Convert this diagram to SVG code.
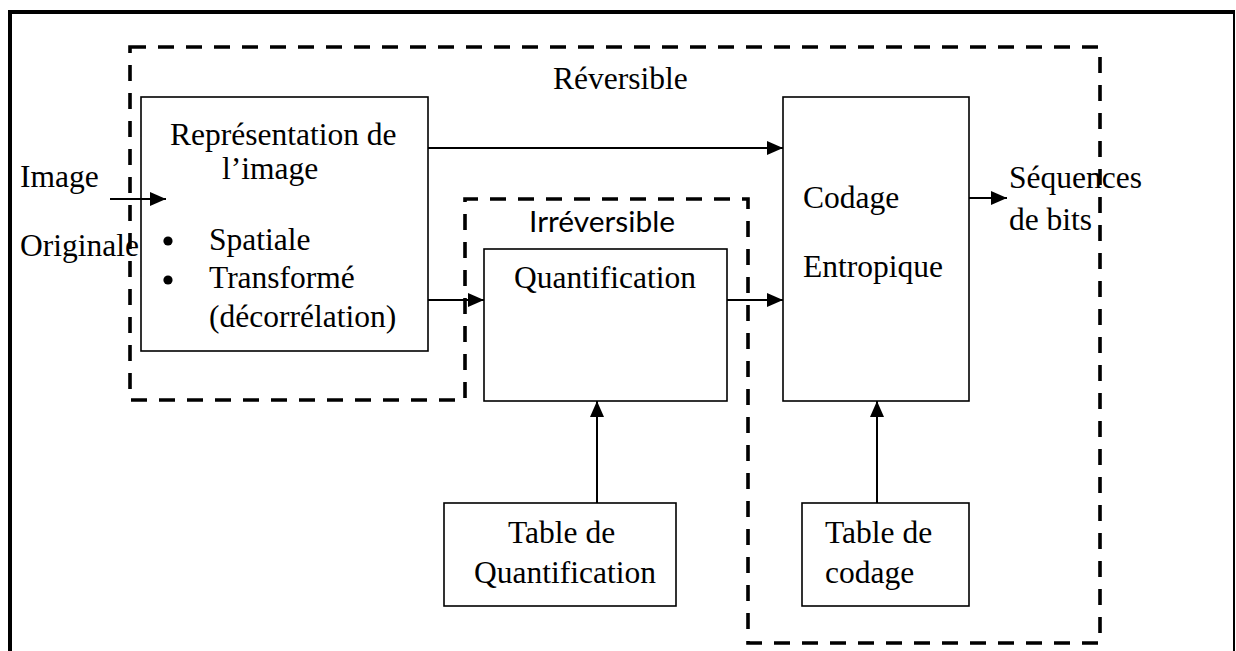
<svg xmlns="http://www.w3.org/2000/svg" width="1236" height="651" viewBox="0 0 1236 651">
  <style>
    .box { fill: #fff; stroke: #000; stroke-width: 1.6; }
    .zone { fill: none; stroke: #000; stroke-width: 3.6; stroke-dasharray: 16 12; }
    .frame { fill: none; stroke: #000; }
    .lbl { font-family: "Liberation Serif", "Times New Roman", serif; font-size: 31.5px; fill: #000; }
    .sans { font-family: Lato, "Liberation Sans", sans-serif; font-size: 29px; fill: #000; }
    .link { fill: none; stroke: #000; stroke-width: 2; }
  </style>
  <defs>
    <marker id="head" markerUnits="userSpaceOnUse" markerWidth="17" markerHeight="15" refX="16" refY="7" orient="auto">
      <path d="M0,0 L16,7 L0,14 Z" fill="#000"/>
    </marker>
  </defs>

  <rect width="1236" height="651" fill="#fff"/>

  <!-- page frame -->
  <g id="frame">
    <line class="frame" x1="8" y1="12" x2="1235" y2="12" stroke-width="4"/>
    <line class="frame" x1="10" y1="10" x2="10" y2="651" stroke-width="4"/>
    <line class="frame" x1="1234" y1="12" x2="1234" y2="651" stroke-width="2"/>
  </g>

  <!-- reversible / irreversible zones -->
  <g id="zones">
    <path class="zone" d="M130,47 H1100 V643 H748 V199 H465 V400 H130 Z"/>
    <text class="lbl" x="553" y="89">Réversible</text>
    <text class="sans" x="529" y="232" textLength="146" lengthAdjust="spacingAndGlyphs">Irréversible</text>
  </g>

  <!-- input / output labels -->
  <g id="input">
    <text class="lbl" x="20" y="187">Image</text>
    <text class="lbl" x="20" y="256">Originale</text>
  </g>
  <g id="output">
    <text class="lbl" x="1009" y="188">Séquences</text>
    <text class="lbl" x="1009" y="230">de bits</text>
  </g>

  <g id="representation">
    <rect class="box" x="141" y="97" width="287" height="254"/>
    <text class="lbl" x="170" y="145">Représentation de</text>
    <text class="lbl" x="222" y="179">l’image</text>
    <circle cx="168" cy="241" r="4.6" fill="#000"/>
    <text class="lbl" x="209" y="250">Spatiale</text>
    <circle cx="168" cy="280" r="4.6" fill="#000"/>
    <text class="lbl" x="209" y="288">Transformé</text>
    <text class="lbl" x="209" y="327">(décorrélation)</text>
  </g>

  <g id="quantification">
    <rect class="box" x="484" y="249" width="243" height="152"/>
    <text class="lbl" x="514" y="288">Quantification</text>
  </g>

  <g id="codage">
    <rect class="box" x="783" y="97" width="186" height="304"/>
    <text class="lbl" x="803" y="208">Codage</text>
    <text class="lbl" x="803" y="277">Entropique</text>
  </g>

  <g id="table-quantification">
    <rect class="box" x="444" y="503" width="232" height="103"/>
    <text class="lbl" x="508" y="543">Table de</text>
    <text class="lbl" x="474" y="583">Quantification</text>
  </g>

  <g id="table-codage">
    <rect class="box" x="802" y="503" width="167" height="103"/>
    <text class="lbl" x="825" y="543">Table de</text>
    <text class="lbl" x="825" y="583">codage</text>
  </g>

  <!-- connectors -->
  <g id="connectors">
    <line class="link" x1="110" y1="199" x2="166" y2="199" marker-end="url(#head)"/>
    <line class="link" x1="428" y1="148" x2="783" y2="148" marker-end="url(#head)"/>
    <line class="link" x1="428" y1="300" x2="484" y2="300" marker-end="url(#head)"/>
    <line class="link" x1="727" y1="300" x2="783" y2="300" marker-end="url(#head)"/>
    <line class="link" x1="969" y1="198" x2="1007" y2="198" marker-end="url(#head)"/>
    <line class="link" x1="597" y1="503" x2="597" y2="401" marker-end="url(#head)"/>
    <line class="link" x1="877" y1="503" x2="877" y2="401" marker-end="url(#head)"/>
  </g>
</svg>
